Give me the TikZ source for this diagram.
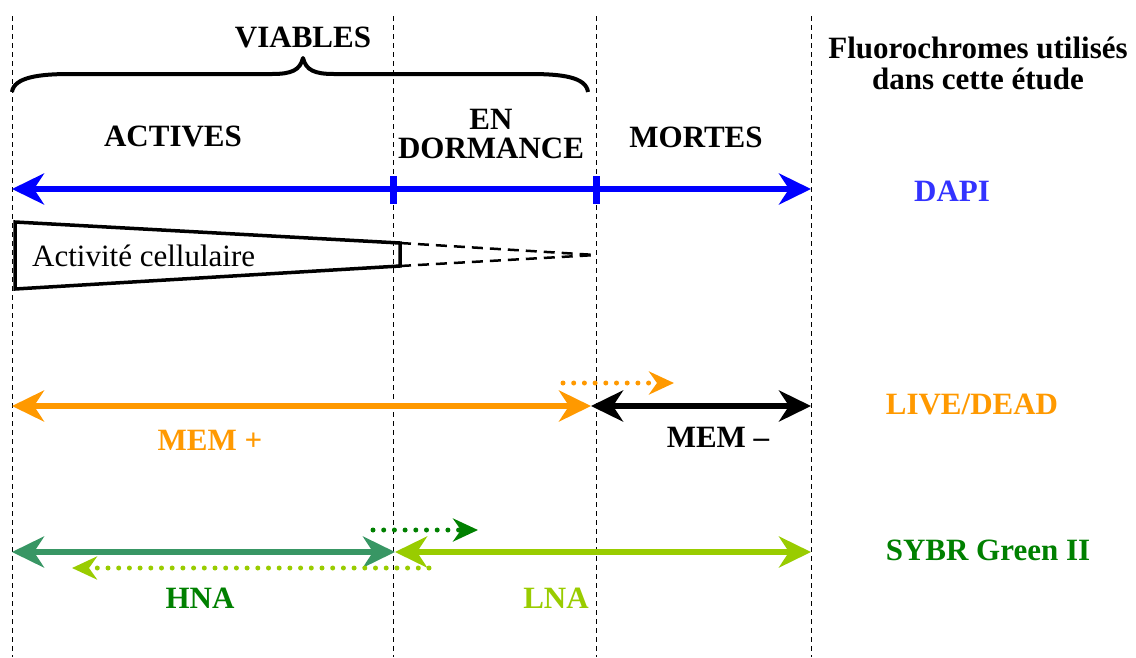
\documentclass[tikz,border=0pt]{standalone}
\usepackage{fontspec}
\setmainfont{Liberation Serif}
\usetikzlibrary{arrows.meta}
\definecolor{dapiblue}{RGB}{0,0,255}
\definecolor{dapitext}{RGB}{51,51,255}
\definecolor{orng}{RGB}{255,153,0}
\definecolor{seagrn}{RGB}{56,150,100}
\definecolor{dkgrn}{RGB}{0,128,0}
\definecolor{ltgrn}{RGB}{153,204,0}
\tikzset{
  guide/.style={black, line width=0.9pt, dash pattern=on 5pt off 4pt},
  lbl/.style={font=\fontsize{31}{33}\selectfont\bfseries, align=center, inner sep=0pt},
  big/.style={line width=6.5pt, {Stealth[length=32pt,width=31pt,inset=10pt]}-{Stealth[length=32pt,width=31pt,inset=10pt]}},
  dots/.style={line width=5pt, line cap=round, dash pattern=on 0pt off 10.7pt, -{Stealth[length=25pt,width=23pt,inset=8pt]}},
}
\begin{document}
\begin{tikzpicture}[x=1pt,y=-1pt]
\useasboundingbox (0,0) rectangle (1136,657);
% guides
\foreach \xx/\nm in {12/g1,393/g2,596/g3,811/g4}{
  \coordinate (\nm t) at (\xx,16);
  \coordinate (\nm b) at (\xx,657);
  \draw[guide] (\nm t) -- (\nm b);
}
% brace
\draw[line width=4pt, line join=round] (12,92) .. controls (14,77) and (40,74) .. (70,74) -- (272,74) .. controls (292,74) and (300,70) .. (303,58) .. controls (306,70) and (314,74) .. (334,74) -- (530,74) .. controls (562,74) and (586,77) .. (588,92);
\node[lbl] (viables) at (303,37) {VIABLES};
\node[lbl] (actives) at (173,136) {ACTIVES};
\node[lbl] (dorm) at (491,134) {EN\\[-4pt]DORMANCE};
\node[lbl] (mortes) at (696,137) {MORTES};
\node[lbl] (fluo) at (978,63) {Fluorochromes utilisés\\[-2pt]dans cette étude};
\node[lbl, text=dapitext] (dapi) at (952,191) {DAPI};
\node[lbl, text=orng] (livedead) at (972,404) {LIVE/DEAD};
\node[lbl, text=dkgrn] (sybr) at (988,550) {SYBR Green II};
% DAPI arrow
\coordinate (b1) at (12,189);
\coordinate (b2) at (811,189);
\draw[big, dapiblue, line width=5.5pt] (b1) -- (b2);
\fill[dapiblue] (390,176) rectangle (397,204);
\fill[dapiblue] (593,176) rectangle (600,204);
% activity
\coordinate (a1) at (15,222);
\coordinate (a2) at (400,243);
\coordinate (a3) at (400,266);
\coordinate (a4) at (15,289);
\coordinate (a5) at (596,255);
\draw[line width=3.5pt, line join=miter] (a2) -- (a1) -- (a4) -- (a3) -- cycle;
\draw[line width=2.5pt, dash pattern=on 11pt off 7pt] (a2) -- (a5);
\draw[line width=2.5pt, dash pattern=on 11pt off 7pt] (a3) -- (a5);
\node[font=\fontsize{31}{33}\selectfont, anchor=west, inner sep=0pt] (act) at (32,256) {Activité cellulaire};
% LIVE/DEAD
\coordinate (o1) at (12,406);
\coordinate (o2) at (591,406);
\coordinate (k2) at (811,406);
\draw[big, orng] (o1) -- (o2);
\draw[big, black] (o2) -- (k2);
\coordinate (od1) at (563,383);
\coordinate (od2) at (674,383);
\draw[dots, orng] (od1) -- (od2);
\node[lbl, text=orng] (memp) at (210,440) {MEM +};
\node[lbl] (memm) at (718,437) {MEM –};
% SYBR
\coordinate (s1) at (12,552);
\coordinate (s2) at (395,552);
\coordinate (s3) at (811,552);
\draw[big, ltgrn] (s2) -- (s3);
\draw[big, seagrn] (s1) -- (s2);
\coordinate (ld1) at (429,568);
\coordinate (ld2) at (72,568);
\draw[dots, ltgrn] (ld1) -- (ld2);
\coordinate (dd1) at (373,530);
\coordinate (dd2) at (478,530);
\draw[dots, dkgrn] (dd1) -- (dd2);
\node[lbl, text=dkgrn] (hna) at (200,598) {HNA};
\node[lbl, text=ltgrn] (lna) at (556,598) {LNA};
\end{tikzpicture}
\end{document}
